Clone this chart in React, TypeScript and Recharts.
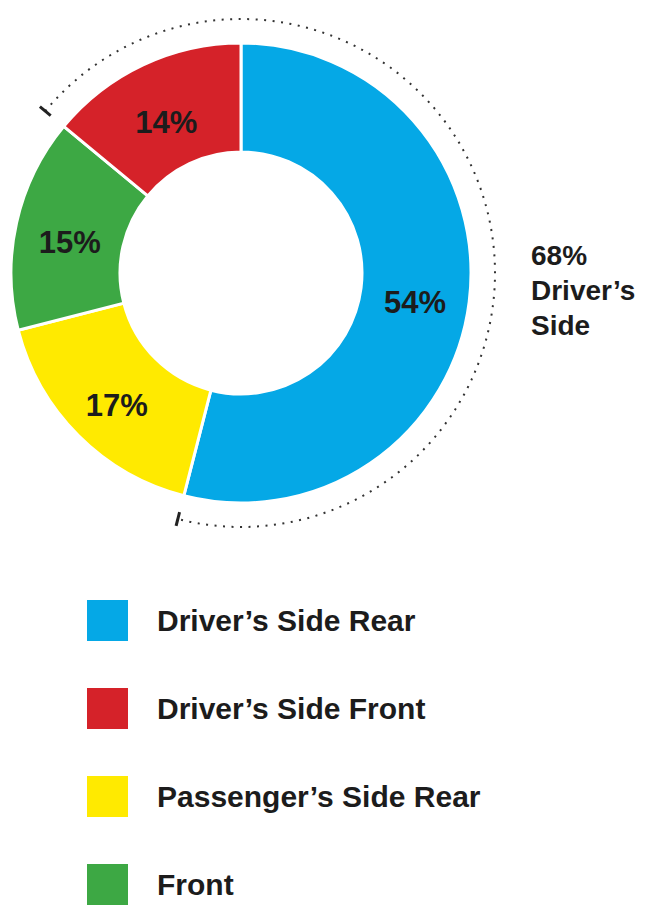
import React from "react";
import { PieChart, Pie, Cell, Legend } from "recharts";

// slices, clockwise from 12 o'clock
const categories = ["Driver’s Side Rear", "Passenger’s Side Rear", "Front", "Driver’s Side Front"];
const shares = [54, 17, 15, 14];
const colors = ["#05A8E6", "#FFEA00", "#3DA844", "#D52229"];

// legend order as printed
const legendOrder = ["Driver’s Side Rear", "Driver’s Side Front", "Passenger’s Side Rear", "Front"];

// outer bracket grouping
const sideGroups = ["68% Driver’s Side", "Other"];
const sideShares = [68, 32];

const FONT = "'Liberation Sans', Arial, sans-serif";
const TEXT = "#1c1c1c";
const RAD = Math.PI / 180;

const sliceData = categories.map((name, i) => ({ name, value: shares[i], color: colors[i] }));
const sideData = sideGroups.map((name, i) => ({ name, value: sideShares[i] }));

const total = shares.reduce((a, b) => a + b, 0);
// bracket starts where "Driver's Side Front" starts (last slice clockwise)
const bracketStart = 90 + (shares[shares.length - 1] / total) * 360;

const polar = (cx: number, cy: number, r: number, a: number) => ({
  x: cx + r * Math.cos(-a * RAD),
  y: cy + r * Math.sin(-a * RAD),
});

const renderSliceLabel = (props: any) => {
  const { cx, cy, midAngle, innerRadius, outerRadius, value } = props;
  const p = polar(cx, cy, (innerRadius + outerRadius) / 2, midAngle);
  return (
    <text
      x={p.x}
      y={p.y + 8}
      textAnchor="middle"
      dominantBaseline="central"
      fontFamily={FONT}
      fontWeight={700}
      fontSize={31}
      fill={TEXT}
    >
      {value}%
    </text>
  );
};

const BracketShape = (props: any) => {
  const { cx, cy, startAngle, endAngle, outerRadius, name } = props;
  if (name === "Other") return <g />;
  const r = outerRadius;
  const s = polar(cx, cy, r, startAngle);
  const e = polar(cx, cy, r, endAngle);
  const large = Math.abs(startAngle - endAngle) > 180 ? 1 : 0;
  const tick = (a: number) => {
    const p1 = polar(cx, cy, r - 7, a);
    const p2 = polar(cx, cy, r + 7, a);
    return <line x1={p1.x} y1={p1.y} x2={p2.x} y2={p2.y} stroke="#222" strokeWidth={3} />;
  };
  const words = name.split(" ");
  return (
    <g>
      <path
        d={`M ${s.x} ${s.y} A ${r} ${r} 0 ${large} 1 ${e.x} ${e.y}`}
        fill="none"
        stroke="#333"
        strokeWidth={2}
        strokeDasharray="2 6.5"
      />
      {tick(startAngle)}
      {tick(endAngle)}
      <text x={cx + 290} y={265} fontFamily={FONT} fontWeight={700} fontSize={28} fill={TEXT}>
        {words.map((w: string, i: number) => (
          <tspan key={i} x={cx + 290} dy={i === 0 ? 0 : 35}>
            {w}
          </tspan>
        ))}
      </text>
    </g>
  );
};

const renderLegend = () => (
  <div style={{ fontFamily: FONT }}>
    {legendOrder.map((name) => {
      const c = colors[categories.indexOf(name)];
      return (
        <div key={name} style={{ display: "flex", alignItems: "center", height: 41, marginBottom: 47 }}>
          <div style={{ width: 41, height: 41, background: c, marginRight: 29 }} />
          <span style={{ fontSize: 30, fontWeight: 700, color: TEXT }}>{name}</span>
        </div>
      );
    })}
  </div>
);

export default function App() {
  return (
    <div style={{ position: "absolute", left: 0, top: 0, width: 646, height: 905, background: "#fff" }}>
      <PieChart width={646} height={905} margin={{ top: 0, right: 0, bottom: 0, left: 0 }}>
        <Pie
          data={sliceData}
          dataKey="value"
          nameKey="name"
          cx={241}
          cy={273}
          innerRadius={121}
          outerRadius={230}
          startAngle={90}
          endAngle={-270}
          stroke="#fff"
          strokeWidth={3}
          label={renderSliceLabel}
          labelLine={false}
          isAnimationActive={false}
        >
          {sliceData.map((d, i) => (
            <Cell key={i} fill={d.color} />
          ))}
        </Pie>
        <Pie
          data={sideData}
          dataKey="value"
          nameKey="name"
          cx={241}
          cy={273}
          innerRadius={254}
          outerRadius={254}
          startAngle={bracketStart}
          endAngle={bracketStart - 360}
          shape={BracketShape}
          isAnimationActive={false}
        />
        <Legend
          content={renderLegend}
          wrapperStyle={{ position: "absolute", left: 87, top: 600, width: 520 }}
        />
      </PieChart>
    </div>
  );
}
